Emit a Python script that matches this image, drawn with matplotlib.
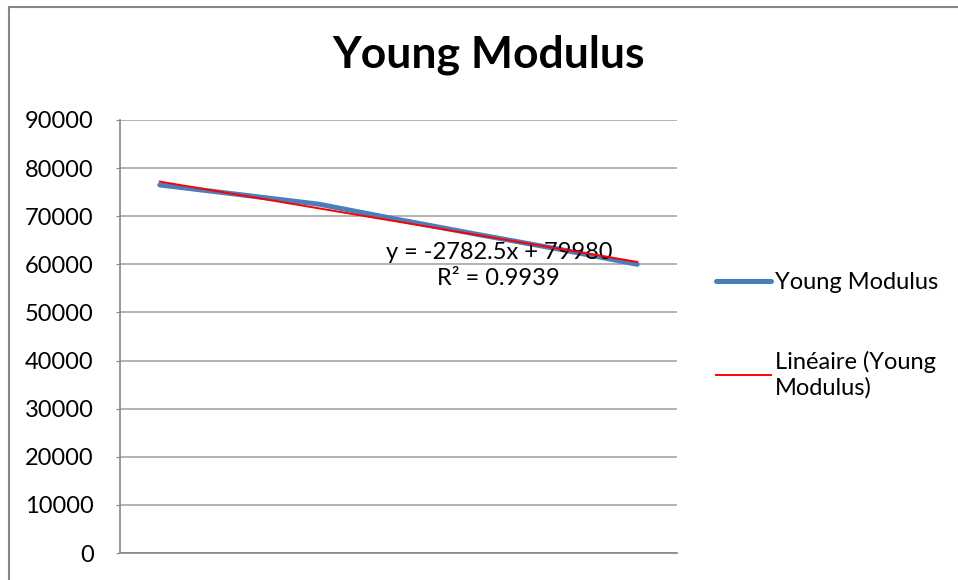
import matplotlib.pyplot as plt
from matplotlib.patches import Rectangle

# Young modulus readings (MPa) for samples 1..7
samples = [1, 2, 3, 4, 5, 6, 7]
young_modulus = [76500, 74500, 72500, 69300, 66200, 63200, 60000]

# linear trend reported by the spreadsheet
slope = -2782.5
intercept = 79980
r_squared = 0.9939

y_ticks = list(range(0, 90001, 10000))

plt.rcParams['font.family'] = ['Lato', 'DejaVu Sans']

fig = plt.figure(figsize=(9.58, 5.8), dpi=100)
ax = fig.add_axes([120 / 958, 1 - 553 / 580, 557 / 958, 433 / 580])

# outer chart border
fig.patches.append(Rectangle((9 / 958, -0.1), 1.2, 1 - 7 / 580 + 0.1,
                             transform=fig.transFigure, fill=False,
                             edgecolor='#868686', linewidth=1.5))

ax.plot(samples, young_modulus, color='#4a7ebb', linewidth=3.6,
        solid_capstyle='round', label='Young Modulus', zorder=3)
trend = [slope * x + intercept for x in samples]
ax.plot(samples, trend, color='#ff0000', linewidth=1.4,
        label='Linéaire (Young\nModulus)', zorder=4)

ax.set_xlim(0.5, 7.5)
ax.set_ylim(0, 90000)
ax.set_yticks(y_ticks)
ax.set_yticklabels([str(v) for v in y_ticks])
ax.set_xticks([])
ax.yaxis.grid(True, color='#a6a6a6', linewidth=1.2)
ax.set_axisbelow(True)
for side in ['top', 'right']:
    ax.spines[side].set_visible(False)
for side in ['left', 'bottom']:
    ax.spines[side].set_color('#868686')
    ax.spines[side].set_linewidth(1.2)
ax.tick_params(axis='y', length=3, color='#868686', labelsize=17, pad=16)

ax.text(5.26, 59800, f'y = {slope}x + {intercept}\nR² = {r_squared}',
        ha='center', va='center', fontsize=17, linespacing=1.3)

fig.text(489 / 958, 1 - 55 / 580, 'Young Modulus', ha='center', va='center',
         fontsize=32, fontweight='bold')

ax.legend(loc='upper left', bbox_to_anchor=(695 / 958, 1 - 251 / 580),
          bbox_transform=fig.transFigure, frameon=False, fontsize=17,
          handlelength=2.3, handletextpad=0.2, labelspacing=2.45)

fig.savefig('out.png', dpi=100)
